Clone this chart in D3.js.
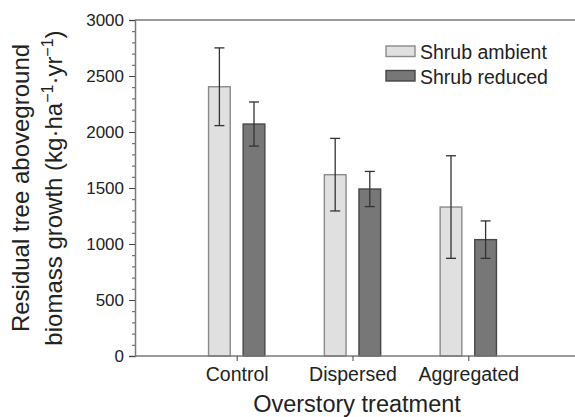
<!DOCTYPE html>
<html>
<head>
<meta charset="utf-8">
<script src="https://cdn.jsdelivr.net/npm/d3@7"></script>
<style>
  html, body { margin: 0; padding: 0; background: #fff; }
  svg { display: block; font-family: "Liberation Sans", Arial, Helvetica, sans-serif; }
</style>
</head>
<body>
<svg id="chart" width="575" height="417"></svg>
<script>
const categories = ["Control", "Dispersed", "Aggregated"];
const seriesNames = ["Shrub ambient", "Shrub reduced"];
const ambientValues = [2404, 1619, 1330];
const ambientErrors = [347, 324, 458];
const reducedValues = [2071, 1491, 1039];
const reducedErrors = [197, 157, 167];
const yMajorTicks = [0, 500, 1000, 1500, 2000, 2500, 3000];

const seriesData = [
  { name: seriesNames[0], values: ambientValues, errors: ambientErrors, fill: "#e0e0e0", stroke: "#8a8a8a" },
  { name: seriesNames[1], values: reducedValues, errors: reducedErrors, fill: "#777777", stroke: "#474747" }
];

const svg = d3.select("#chart");
const mLeft = 135, mRight = 580, mTop = 20, mBottom = 356;

const x = d3.scalePoint().domain(categories).range([236.7, 468.3]);
const xInner = d3.scaleBand().domain(seriesNames).range([-28.15, 28.15]).paddingInner(0.373);
const y = d3.scaleLinear().domain([0, 3000]).range([mBottom, mTop]);

// frame line at top
svg.append("line").attr("x1", mLeft).attr("x2", mRight).attr("y1", mTop).attr("y2", mTop)
  .attr("stroke", "#7a7a7a").attr("stroke-width", 1.5);

// bars
seriesData.forEach(s => {
  const g = svg.append("g");
  categories.forEach((c, i) => {
    const cx = x(c) + xInner(s.name);
    g.append("rect")
      .attr("x", cx).attr("width", xInner.bandwidth())
      .attr("y", y(s.values[i])).attr("height", y(0) - y(s.values[i]))
      .attr("fill", s.fill).attr("stroke", s.stroke).attr("stroke-width", 1.4);
  });
});

// error bars
seriesData.forEach(s => {
  const g = svg.append("g").attr("stroke", "#333").attr("stroke-width", 1.3);
  categories.forEach((c, i) => {
    const mx = x(c) + xInner(s.name) + xInner.bandwidth() / 2;
    const hi = y(s.values[i] + s.errors[i]);
    const lo = y(s.values[i] - s.errors[i]);
    g.append("line").attr("x1", mx).attr("x2", mx).attr("y1", hi).attr("y2", lo);
    g.append("line").attr("x1", mx - 5).attr("x2", mx + 5).attr("y1", hi).attr("y2", hi);
    g.append("line").attr("x1", mx - 5).attr("x2", mx + 5).attr("y1", lo).attr("y2", lo);
  });
});

// y axis
const yAxis = d3.axisLeft(y).tickValues(yMajorTicks).tickSize(6).tickPadding(5).tickFormat(d3.format("d"));
const yg = svg.append("g").attr("transform", `translate(${mLeft},0)`).call(yAxis);
yg.select(".domain").attr("stroke", "#7a7a7a").attr("stroke-width", 1.5);
yg.selectAll(".tick line").attr("stroke", "#444").attr("stroke-width", 1);
yg.selectAll(".tick text").attr("font-size", 17).attr("fill", "#222")
  .attr("font-family", "Liberation Sans, Arial, sans-serif");
const yMinor = d3.axisLeft(y).tickValues(d3.range(0, 3001, 100).filter(v => v % 500 !== 0))
  .tickSize(3).tickFormat("");
const ymg = svg.append("g").attr("transform", `translate(${mLeft},0)`).call(yMinor);
ymg.select(".domain").remove();
ymg.selectAll(".tick line").attr("stroke", "#555").attr("stroke-width", 1);

// x axis
svg.append("line").attr("x1", mLeft).attr("x2", mRight).attr("y1", mBottom).attr("y2", mBottom)
  .attr("stroke", "#7a7a7a").attr("stroke-width", 1.5);
const xAxis = d3.axisBottom(x).tickSize(5).tickPadding(3);
const xg = svg.append("g").attr("transform", `translate(0,${mBottom})`).call(xAxis);
xg.select(".domain").remove();
xg.selectAll(".tick line").attr("stroke", "#444");
xg.selectAll(".tick text").attr("font-size", 19.5).attr("fill", "#222")
  .attr("font-family", "Liberation Sans, Arial, sans-serif").attr("dy", null).attr("y", 25);

// axis titles
svg.append("text").attr("x", 357).attr("y", 411.5).attr("text-anchor", "middle")
  .attr("font-size", 23.5).attr("fill", "#222").text("Overstory treatment");

const yt = svg.append("text").attr("transform", "translate(28.5,188) rotate(-90)")
  .attr("text-anchor", "middle").attr("font-size", 24).attr("fill", "#222");
yt.append("tspan").attr("x", 0).attr("y", 0).text("Residual tree aboveground");
const l2 = yt.append("tspan").attr("x", 0).attr("y", 33.5);
l2.append("tspan").text("biomass growth (kg·ha");
l2.append("tspan").attr("dy", -9).attr("font-size", 16).text("−1");
l2.append("tspan").attr("dy", 9).text("·yr");
l2.append("tspan").attr("dy", -9).attr("font-size", 16).text("−1");
l2.append("tspan").attr("dy", 9).text(")");

// legend
const legend = svg.append("g");
seriesData.forEach((s, i) => {
  legend.append("rect").attr("x", 386).attr("y", 46 + i * 24.5).attr("width", 29).attr("height", 10.5)
    .attr("fill", s.fill).attr("stroke", s.stroke).attr("stroke-width", 1.4);
  legend.append("text").attr("x", 420).attr("y", 59 + i * 24.5)
    .attr("font-size", 19.5).attr("fill", "#222").text(s.name);
});
</script>
</body>
</html>
